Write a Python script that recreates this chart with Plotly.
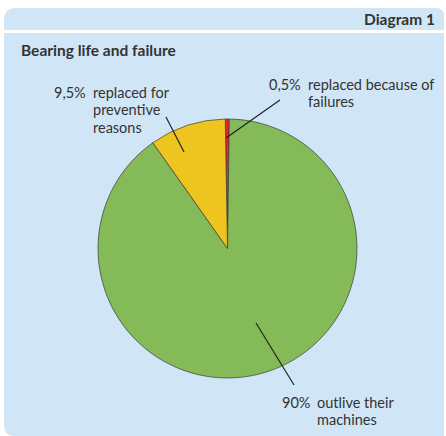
import plotly.graph_objects as go

# Share of bearings by outcome
shares = [0.5, 90, 9.5]
outcomes = [
    ["replaced because of", "failures"],
    ["outlive their", "machines"],
    ["replaced for", "preventive", "reasons"],
]
slice_colors = ["#E4232B", "#84BB58", "#EEC51E"]

header_text = "Diagram 1"
title_text = "Bearing life and failure"

W, H = 446, 436
panel_bg = "#D0E6F6"
ink = "#333333"
font_family = "Lato, 'Open Sans', sans-serif"


def pct_label(v):
    return f"{v:g}%".replace(".", ",")


# Pie placement (pixel space)
cx, cy, r = 227.5, 248.5, 129.5

fig = go.Figure()

fig.add_trace(go.Pie(
    values=shares,
    labels=[" ".join(o) for o in outcomes],
    marker=dict(colors=slice_colors, line=dict(color="#3a3a3a", width=0.7)),
    sort=False,
    direction="clockwise",
    rotation=-1,
    textinfo="none",
    hovertemplate="%{label}: %{value}%<extra></extra>",
    domain=dict(x=[(cx - r) / W, (cx + r) / W], y=[(H - cy - r) / H, (H - cy + r) / H]),
    showlegend=False,
))

shapes = []
# Header band with rounded top corners
shapes.append(dict(
    type="path", xref="x", yref="y", layer="below",
    path="M 4 30 L 4 20 Q 4 8 16 8 L 436 8 Q 444 8 444 16 L 444 30 Z",
    fillcolor=panel_bg, line=dict(width=0),
))
# Body panel with rounded bottom-left corner
shapes.append(dict(
    type="path", xref="x", yref="y", layer="below",
    path="M 4 33 L 444 33 L 444 436 L 14 436 Q 4 436 4 424 Z",
    fillcolor=panel_bg, line=dict(width=0),
))

# Leader lines: (label end) -> (slice point)
leaders = [
    ((280, 100), (226, 138)),   # 0,5%
    ((294, 385), (256, 323)),   # 90%
    ((166, 117), (184, 152)),   # 9,5%
]
for (x0, y0), (x1, y1) in leaders:
    shapes.append(dict(type="line", xref="x", yref="y", x0=x0, y0=y0, x1=x1, y1=y1,
                       line=dict(color="#222222", width=1.2)))

fs = 14.5
line_step = 17.5
annotations = [
    dict(x=437, y=19, text=f"<b>{header_text}</b>", xanchor="right", yanchor="middle",
         font=dict(size=15.5, color=ink)),
    dict(x=19, y=50, text=f"<b>{title_text}</b>", xanchor="left", yanchor="middle",
         font=dict(size=15.5, color=ink)),
]

# Label anchors: x where the percentage ends, x where the wording starts, y of first line
label_pos = [(303, 306, 84), (312, 315, 402), (88, 91, 92)]
for v, lines, (xp, xt, y0) in zip(shares, outcomes, label_pos):
    annotations.append(dict(x=xp, y=y0, text=pct_label(v), xanchor="right", yanchor="middle",
                            font=dict(size=fs, color=ink)))
    for i, ln in enumerate(lines):
        annotations.append(dict(x=xt, y=y0 + i * line_step, text=ln, xanchor="left",
                                yanchor="middle", font=dict(size=fs, color=ink)))

for a in annotations:
    a["showarrow"] = False
    a["xref"] = "x"
    a["yref"] = "y"

fig.update_layout(
    width=W, height=H,
    margin=dict(l=0, r=0, t=0, b=0),
    paper_bgcolor="white",
    plot_bgcolor="rgba(0,0,0,0)",
    font=dict(family=font_family, color=ink),
    xaxis=dict(range=[0, W], visible=False, fixedrange=True),
    yaxis=dict(range=[H, 0], visible=False, fixedrange=True),
    shapes=shapes,
    annotations=annotations,
)

fig.write_html("out.html")
